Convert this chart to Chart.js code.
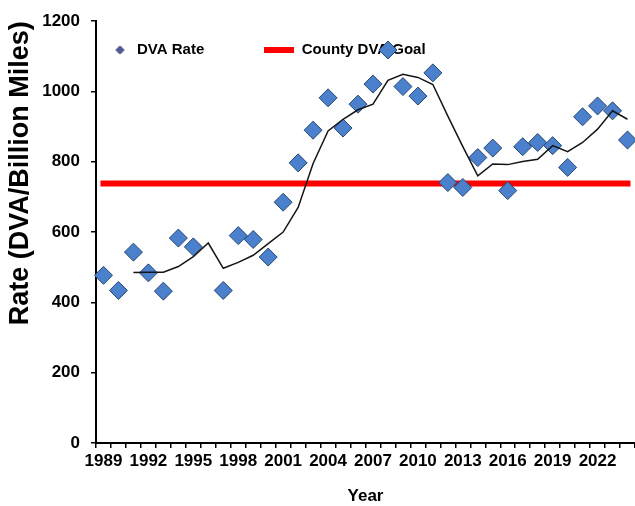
<!DOCTYPE html>
<html>
<head>
<meta charset="utf-8">
<script src="https://cdn.jsdelivr.net/npm/chart.js@4.4.1/dist/chart.umd.min.js"></script>
<style>
html,body{margin:0;padding:0;background:#fff;}
#wrap{width:635px;height:506px;position:relative;}
</style>
</head>
<body>
<div id="wrap"><canvas id="c" width="635" height="506"></canvas></div>
<script>
// ---- data ----
const years = ['1989','1990','1991','1992','1993','1994','1995','1996','1997','1998','1999','2000',
  '2001','2002','2003','2004','2005','2006','2007','2008','2009','2010','2011','2012',
  '2013','2014','2015','2016','2017','2018','2019','2020','2021','2022','2023','2024'];
const dvaRate = [477,434,543,484,432,583,558,null,434,590,579,529,
  685,797,890,982,896,964,1021,1118,1014,987,1053,741,
  727,812,839,718,843,855,846,784,928,959,945,862];
const movingAvg = [null,null,485,486,486,502,530,569,497,514,534,567,
  600,670,795,888,921,948,964,1032,1049,1040,1020,930,
  843,760,794,792,801,807,846,829,855,893,945,921];
const goalValue = 738;
const xTickLabels = ['1989','1992','1995','1998','2001','2004','2007','2010','2013','2016','2019','2022'];
const yTicks = [0,200,400,600,800,1000,1200];

const F = '"Liberation Sans", Arial, Helvetica, sans-serif';
Chart.defaults.font.family = F;
Chart.defaults.color = '#000';

function makeDiamondIcon(){
  const c = document.createElement('canvas'); c.width = 30; c.height = 12;
  const g = c.getContext('2d');
  g.beginPath(); g.moveTo(16.5,6); g.lineTo(20.5,2); g.lineTo(24.5,6); g.lineTo(20.5,10); g.closePath();
  g.fillStyle = '#4F5B9E'; g.fill(); g.strokeStyle = '#2E3466'; g.lineWidth = 1; g.stroke();
  return c;
}
function makeLineIcon(){
  const c = document.createElement('canvas'); c.width = 30; c.height = 6;
  const g = c.getContext('2d'); g.fillStyle = '#FF0000'; g.fillRect(0,0,30,6);
  return c;
}
const diamondIcon = makeDiamondIcon();
const lineIcon = makeLineIcon();

const LEG_PAD = 60;
const legendOverlay = {
  id: 'legendOverlay',
  beforeLayout(chart){
    const lg = chart.legend;
    if (lg && !lg.__patched){
      const orig = lg.fit;
      lg.fit = function(){ orig.call(this); this.height = 0; };
      lg.__patched = true;
    }
  },
  afterLayout(chart){
    const lg = chart.legend; if (!lg) return;
    lg.left = 99.5 - LEG_PAD; lg.top = 42.5 - LEG_PAD;
    lg.right = chart.width; lg.bottom = 80;
    lg.width = lg.right - lg.left; lg.height = lg.bottom - lg.top;
  }
};

new Chart(document.getElementById('c'), {
  type: 'line',
  data: {
    labels: years,
    datasets: [
      { label: 'Moving Average', data: movingAvg, borderColor: '#151515', borderWidth: 1.5,
        pointRadius: 0, tension: 0, fill: false, order: 1 },
      { label: 'DVA Rate', data: dvaRate, showLine: false, pointStyle: 'rectRot', pointRadius: 9,
        pointHoverRadius: 9, pointBackgroundColor: '#4A80CC', pointBorderColor: '#27476F',
        pointBorderWidth: 1, borderColor: '#4A80CC', backgroundColor: '#4A80CC', order: 2 },
      { label: 'County DVA Goal',
        data: [{x: years[0], y: goalValue}, {x: years[years.length-1], y: goalValue}],
        borderColor: '#FF0000', backgroundColor: '#FF0000', borderWidth: 6, borderCapStyle: 'square',
        pointRadius: 0, tension: 0, order: 3 }
    ]
  },
  options: {
    responsive: false,
    animation: false,
    devicePixelRatio: 1,
    layout: { autoPadding: false, padding: { top: 20, right: 0, bottom: 0, left: 0 } },
    plugins: {
      tooltip: { enabled: false },
      legend: {
        display: true, position: 'top', align: 'start',
        labels: {
          usePointStyle: true, pointStyleWidth: 30, padding: LEG_PAD, color: '#000',
          font: { family: F, size: 15, weight: 'bold' },
          filter: (item) => item.text !== 'Moving Average',
          generateLabels(chart){
            const items = Chart.defaults.plugins.legend.labels.generateLabels(chart);
            items.forEach(it => {
              if (it.text === 'DVA Rate') it.pointStyle = diamondIcon;
              if (it.text === 'County DVA Goal') it.pointStyle = lineIcon;
            });
            return items;
          }
        }
      }
    },
    scales: {
      x: {
        type: 'category', offset: true,
        grid: { offset: true, drawOnChartArea: false, drawTicks: true, tickLength: 5, color: '#000', lineWidth: 1.5 },
        border: { display: true, color: '#000', width: 2 },
        ticks: { autoSkip: false, maxRotation: 0, minRotation: 0, padding: 3, color: '#000',
          font: { family: F, size: 17, weight: 'bold' },
          callback(v, i){ return xTickLabels.includes(years[i]) ? years[i] : ''; } },
        title: { display: true, text: 'Year', color: '#000', font: { family: F, size: 17, weight: 'bold' },
          padding: { top: 14, bottom: -1 } },
        afterFit(s){ s.height = 63; }
      },
      y: {
        min: 0, max: 1200,
        afterBuildTicks(s){ s.ticks = yTicks.map(v => ({ value: v })); },
        grid: { drawOnChartArea: false, drawTicks: true, tickLength: 5, color: '#000', lineWidth: 1.5 },
        border: { display: true, color: '#000', width: 2 },
        ticks: { padding: 11, color: '#000', font: { family: F, size: 17, weight: 'bold' },
          callback(v){ return String(v); } },
        title: { display: true, text: 'Rate (DVA/Billion Miles)', align: 'end', color: '#000',
          font: { family: F, size: 27, weight: 'bold' }, padding: { top: 4, bottom: 0 } },
        afterFit(s){ s.width = 96; }
      }
    }
  },
  plugins: [legendOverlay]
});
</script>
</body>
</html>
